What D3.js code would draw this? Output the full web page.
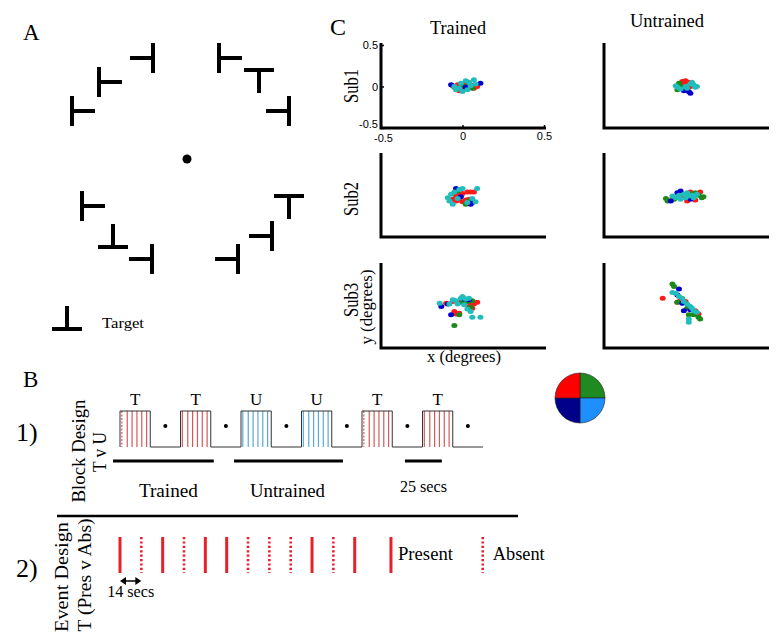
<!DOCTYPE html>
<html><head><meta charset="utf-8">
<script src="https://cdn.jsdelivr.net/npm/d3@7"></script>
<style>
body{margin:0;background:#fff}
svg{display:block}
text{font-family:"Liberation Serif","Times New Roman",serif;fill:#000}
</style>
</head><body>
<svg id="fig" width="776" height="644"></svg>
<script>
// ---------- Panel A: search display (position in degrees, stem direction) ----------
const stimX   = [-3.4, -8.8, -11.5, 3.2, 7.2, 10.2, -10.5, -7.4, -3.5, 10.2, 8.5, 5.1];
const stimY   = [10.1,  7.7,   4.8, 10.1, 8.9,  4.8,  -4.7, -8.8, -10.0, -3.7, -7.7, -10.0];
const stimDir = ["left","right","right","right","down","left","right","up","left","down","left","left"];

// ---------- Panel C: fixation scatter (x, y in degrees) ----------
const colorNames = ["red","green","blue","cyan"];
const sub1Trained = {
  red:  [[-0.06,0.01],[-0.04,-0.02],[-0.02,-0.05],[0.0,-0.03],[0.03,0.0],[0.05,0.02],[0.07,-0.02],[0.09,0.0],[-0.03,0.02],[0.01,0.03]],
  green:[[0.0,0.01],[0.06,-0.02],[0.04,0.03],[-0.05,-0.01]],
  blue: [[-0.07,0.02],[0.11,0.04],[0.02,-0.01]],
  cyan: [[-0.05,0.0],[-0.02,-0.02],[0.0,-0.06],[0.02,0.07],[0.04,0.05],[0.07,0.08],[-0.01,0.04],[0.05,0.01],[0.03,-0.04],[-0.04,-0.04],[0.08,0.03]]
};
const sub1Untrained = {
  red:  [[-0.02,0.06],[0.0,0.07],[0.02,0.05],[-0.01,0.02],[0.03,0.0],[0.01,-0.03]],
  green:[[-0.04,0.04],[-0.03,0.0],[-0.05,-0.04]],
  blue: [[0.02,-0.06],[0.03,-0.08],[-0.01,-0.05]],
  cyan: [[-0.05,-0.01],[-0.03,-0.03],[0.0,0.0],[0.03,0.03],[0.05,0.02],[0.06,-0.01],[0.07,0.0],[0.04,0.05],[0.01,-0.02],[-0.06,0.01]]
};
const sub2Trained = {
  red:  [[-0.06,-0.04],[-0.04,-0.06],[-0.02,-0.05],[0.0,-0.07],[0.02,-0.05],[0.04,-0.04],[0.05,-0.07],[0.03,0.05],[0.05,0.05],[0.07,0.05],[-0.02,0.02],[0.0,0.03],[-0.04,0.0]],
  green:[[0.02,-0.1],[0.04,-0.06],[-0.03,0.06]],
  blue: [[-0.04,0.09],[-0.01,-0.01],[0.05,-0.1],[0.06,-0.08]],
  cyan: [[-0.08,-0.06],[-0.09,-0.02],[-0.07,0.02],[-0.05,0.05],[-0.02,0.08],[0.0,0.09],[0.06,-0.03],[0.08,-0.07],[0.09,0.09],[-0.06,-0.1],[0.03,-0.08],[-0.03,-0.03]]
};
const sub2Untrained = {
  red:  [[-0.08,-0.03],[-0.02,0.0],[0.01,-0.06],[0.03,0.05],[0.06,-0.05],[0.09,0.05],[0.04,-0.02]],
  green:[[-0.12,-0.03],[-0.11,-0.06],[-0.07,-0.04],[0.06,0.04],[0.08,0.01],[0.1,-0.02],[0.11,-0.01],[0.02,0.03]],
  blue: [[-0.05,0.04],[-0.03,0.06],[-0.09,-0.06],[0.03,-0.04]],
  cyan: [[-0.08,0.0],[-0.06,-0.02],[-0.04,0.01],[-0.01,0.02],[0.0,-0.02],[0.02,0.0],[0.04,0.01],[0.05,-0.02],[0.07,0.02],[-0.03,-0.04],[0.01,0.04]]
};
const sub3Trained = {
  red:  [[-0.1,0.04],[-0.06,0.06],[-0.02,0.05],[0.02,0.06],[0.05,0.04],[0.07,0.03],[0.09,0.05],[-0.05,-0.06],[-0.04,-0.09],[-0.02,-0.08],[0.04,0.0],[0.06,-0.02]],
  green:[[-0.05,-0.23],[0.0,0.05],[0.03,0.06],[0.06,0.07],[-0.02,-0.1],[0.05,-0.01]],
  blue: [[-0.13,0.0],[-0.07,-0.1],[0.01,0.09],[-0.09,0.03],[0.04,0.08]],
  cyan: [[-0.14,0.04],[-0.08,0.03],[-0.04,0.07],[-0.01,0.1],[0.0,0.12],[0.02,0.09],[-0.03,0.03],[0.01,0.02],[0.03,-0.03],[0.05,-0.06],[0.06,-0.13],[0.11,-0.13],[-0.06,0.08],[0.04,0.1]]
};
const sub3Untrained = {
  red:  [[-0.14,0.1],[-0.05,0.05],[-0.03,0.08],[0.0,0.06],[0.02,-0.02],[0.04,-0.04],[0.06,-0.05],[0.08,-0.09]],
  green:[[-0.08,0.27],[-0.07,0.24],[-0.05,0.05],[0.01,-0.02],[0.02,-0.1],[0.05,-0.1],[0.08,-0.13],[0.09,-0.15]],
  blue: [[-0.04,0.21],[-0.05,0.14],[-0.02,0.04],[-0.01,-0.05],[0.03,-0.04]],
  cyan: [[-0.08,0.17],[-0.06,0.16],[-0.04,0.12],[-0.02,0.1],[-0.01,0.06],[0.01,0.03],[0.03,0.0],[0.05,-0.05],[0.07,-0.07],[0.02,-0.19],[0.02,-0.15],[0.04,-0.02]]
};
const scatterRows = [[sub1Trained, sub1Untrained],[sub2Trained, sub2Untrained],[sub3Trained, sub3Untrained]];
const rowLabels = ["Sub1","Sub2","Sub3"];
const colLabels = ["Trained","Untrained"];
const axisTicks = [-0.5, 0, 0.5];

// ---------- Panel B: block design ----------
const blockLabels = ["T","T","U","U","T","T"];
const blockStart  = [0, 2, 4, 6, 8, 10];
const blockEventOffsets = [0.06, 0.24, 0.4, 0.56, 0.72, 0.88];
const blockDashedEvent  = [0, -1, -1, -1, 0, -1];
const restDots = [1.5, 3.5, 5.5, 7.5, 9.5, 11.5];
const groupBars = [[-0.23, 3.1], [3.77, 7.37], [9.42, 10.64]];
const groupBarLabels = ["Trained", "Untrained", "25 secs"];

// ---------- Panel B: event design ----------
const eventTypes = ["P","A","P","A","P","P","A","A","A","P","A","P"];
const legendTypes = ["P","A"];
const legendLabels = ["Present","Absent"];
const legendPos = [12.7, 17.0];

// ---------- Colour wheel ----------
const wheelColors = ["#1f8a1f","#1e8fff","#00008b","#ff0000"];

const palette = {red:"#ff1a1a", green:"#1a8a1a", blue:"#0000cc", cyan:"#22bcbc"};

const svg = d3.select("#fig");

function label(x, y, s, size, o = {}) {
  const t = svg.append("text")
    .attr("transform", `translate(${x},${y}) rotate(${o.rot || 0})`)
    .attr("text-anchor", o.anchor || "start")
    .attr("font-size", size)
    .text(s);
  if (o.len) t.attr("textLength", o.len).attr("lengthAdjust", "spacingAndGlyphs");
  return t;
}

// ================= Panel A =================
label(23, 40, "A", 23);
const ax = d3.scaleLinear().domain([-12, 12]).range([67, 307]);
const ay = d3.scaleLinear().domain([-12, 12]).range([279, 39]);
const barHalf = 15, stemLen = 23;
function drawT(g, cx, cy, dir) {
  const p = d3.path();
  if (dir === "left" || dir === "right") {
    p.moveTo(cx, cy - barHalf); p.lineTo(cx, cy + barHalf);
    p.moveTo(cx, cy); p.lineTo(cx + (dir === "left" ? -stemLen : stemLen), cy);
  } else {
    p.moveTo(cx - barHalf, cy); p.lineTo(cx + barHalf, cy);
    p.moveTo(cx, cy); p.lineTo(cx, cy + (dir === "up" ? -stemLen : stemLen));
  }
  g.append("path").attr("d", p.toString()).attr("stroke", "#000").attr("stroke-width", 4).attr("fill", "none");
}
const gA = svg.append("g");
stimX.forEach((x, i) => drawT(gA, ax(x), ay(stimY[i]), stimDir[i]));
gA.append("circle").attr("cx", ax(0)).attr("cy", ay(0)).attr("r", 4.5).attr("fill", "#000");
drawT(gA, 67, 329, "up");
label(102, 328, "Target", 15, {len: 42});

// ================= Panel C =================
label(330, 35, "C", 24);
const colRange = [[381, 544], [604, 767]];
const rowRange = [[45, 128], [155, 237], [265, 348]];
const titleY = [34, 27], titleX = [458, 667], titleLen = [56, 74];
colLabels.forEach((c, j) => label(titleX[j], titleY[j], c, 18, {anchor: "middle", len: titleLen[j]}));

scatterRows.forEach((row, r) => {
  row.forEach((panel, c) => {
    const x = d3.scaleLinear().domain([-0.5, 0.5]).range(colRange[c]);
    const y = d3.scaleLinear().domain([-0.5, 0.5]).range([rowRange[r][1], rowRange[r][0]]);
    const g = svg.append("g");
    colorNames.forEach(cn => {
      g.selectAll(null).data(panel[cn]).join("ellipse")
        .attr("cx", d => x(d[0])).attr("cy", d => y(d[1]))
        .attr("rx", 3).attr("ry", 2.5)
        .attr("fill", palette[cn]);
    });
    if (r === 0 && c === 0) {
      const gx = g.append("g").attr("transform", `translate(0,${rowRange[r][1]})`)
        .call(d3.axisBottom(x).tickValues(axisTicks).tickSizeInner(-3).tickSizeOuter(0).tickPadding(4).tickFormat(d => String(d)));
      const gy = g.append("g").attr("transform", `translate(${colRange[c][0]},0)`)
        .call(d3.axisLeft(y).tickValues(axisTicks).tickSizeInner(-3).tickSizeOuter(0).tickPadding(3).tickFormat(d => String(d)));
      [gx, gy].forEach(a => {
        a.select(".domain").remove();
        a.selectAll("line").attr("stroke", "#000").attr("stroke-width", 1.5);
        a.selectAll("text").style("font-family", "'Liberation Sans',Arial,sans-serif").attr("font-size", 11).style("fill", "#000");
      });
      // keep the two "-0.5" labels at the corner from colliding
      gy.selectAll(".tick").filter(d => d === -0.5).select("text").attr("dy", "-0.05em");
      gx.selectAll(".tick").filter(d => d === -0.5).select("text").attr("x", 2).attr("y", 6);
    }
    g.append("path")
      .attr("d", `M${colRange[c][0]},${rowRange[r][0] - 2}V${rowRange[r][1]}H${colRange[c][1] + 2}`)
      .attr("fill", "none").attr("stroke", "#000").attr("stroke-width", 3);
  });
});
const subY = [86, 199, 300];
rowLabels.forEach((s, r) => label(358, subY[r], s, 20, {anchor: "middle", rot: -90, len: 34}));
label(372, 307, "y (degrees)", 17, {anchor: "middle", rot: -90, len: 75});
label(464, 362, "x (degrees)", 17, {anchor: "middle", len: 74});

// colour wheel
const pie = d3.pie().sort(null).value(1);
const arc = d3.arc().innerRadius(0).outerRadius(25);
svg.append("g").attr("transform", "translate(580,398)")
  .selectAll("path").data(pie(wheelColors)).join("path")
  .attr("d", arc).attr("fill", d => d.data).attr("stroke", "#222").attr("stroke-width", 0.6);

// ================= Panel B =================
label(23, 387, "B", 23);
label(16, 441, "1)", 26);
label(16, 577, "2)", 26);
label(85, 451, "Block Design", 19, {anchor: "middle", rot: -90, len: 103});
label(106, 452, "T v U", 19, {anchor: "middle", rot: -90, len: 40});
label(68, 577, "Event Design", 19, {anchor: "middle", rot: -90, len: 110});
label(91, 575, "T (Pres v Abs)", 19, {anchor: "middle", rot: -90, len: 113});

const bx = d3.scaleLinear().domain([0, 12]).range([120, 483]);
const yTop = 411, yBase = 447;
// event lines inside blocks
blockStart.forEach((s, i) => {
  const col = blockLabels[i] === "T" ? "#d45a5a" : "#5aaad4";
  blockEventOffsets.forEach((o, k) => {
    svg.append("line").attr("x1", bx(s + o)).attr("x2", bx(s + o)).attr("y1", yTop).attr("y2", yBase)
      .attr("stroke", col).attr("stroke-width", 1.2)
      .attr("stroke-dasharray", blockDashedEvent[i] === k ? "2,1.5" : null);
  });
  label(bx(s + 0.5), 405, blockLabels[i], 17, {anchor: "middle"});
});
// waveform
const wave = d3.path();
wave.moveTo(bx(0), yBase); wave.lineTo(bx(0), yTop);
blockStart.forEach((s, i) => {
  if (i > 0) { wave.lineTo(bx(s), yBase); wave.lineTo(bx(s), yTop); }
  wave.lineTo(bx(s + 1), yTop); wave.lineTo(bx(s + 1), yBase);
});
wave.lineTo(bx(12), yBase);
svg.append("path").attr("d", wave.toString()).attr("fill", "none").attr("stroke", "#333").attr("stroke-width", 1);
svg.selectAll(null).data(restDots).join("circle")
  .attr("cx", d => bx(d)).attr("cy", 426).attr("r", 2).attr("fill", "#000");
groupBars.forEach((b, i) => {
  svg.append("line").attr("x1", bx(b[0])).attr("x2", bx(b[1])).attr("y1", 461).attr("y2", 461)
    .attr("stroke", "#000").attr("stroke-width", 3);
});
label((bx(groupBars[0][0]) + bx(groupBars[0][1])) / 2 + 5, 497, groupBarLabels[0], 19, {anchor: "middle", len: 59});
label((bx(groupBars[1][0]) + bx(groupBars[1][1])) / 2 - 1, 497, groupBarLabels[1], 19, {anchor: "middle", len: 75});
label((bx(groupBars[2][0]) + bx(groupBars[2][1])) / 2, 492, groupBarLabels[2], 16, {anchor: "middle", len: 47});

// separator
svg.append("line").attr("x1", 57).attr("x2", 518).attr("y1", 516).attr("y2", 516).attr("stroke", "#000").attr("stroke-width", 2.5);

// event design
const ex = d3.scaleLinear().domain([0, 11]).range([120, 354.7]);
const evRed = "#e8202a";
function evLine(xp, type) {
  svg.append("line").attr("x1", xp).attr("x2", xp).attr("y1", 537).attr("y2", 573)
    .attr("stroke", evRed).attr("stroke-width", type === "P" ? 3 : 2.6)
    .attr("stroke-dasharray", type === "P" ? null : "2.2,2.2");
}
eventTypes.forEach((t, i) => evLine(ex(i), t));
legendTypes.forEach((t, i) => {
  evLine(ex(legendPos[i]), t);
  label(ex(legendPos[i]) + (i === 0 ? 7 : 10), 560, legendLabels[i], 18, {len: i === 0 ? 55 : 52});
});
// 14 secs arrow
const ay0 = 581, a1 = ex(0), a2 = ex(1);
svg.append("line").attr("x1", a1 + 4).attr("x2", a2 - 4).attr("y1", ay0).attr("y2", ay0).attr("stroke", "#000").attr("stroke-width", 1.5);
svg.append("path").attr("d", `M${a1},${ay0}l6,-4v8z M${a2},${ay0}l-6,-4v8z`).attr("fill", "#000");
label((a1 + a2) / 2, 597, "14 secs", 16, {anchor: "middle", len: 47});
</script>
</body></html>
